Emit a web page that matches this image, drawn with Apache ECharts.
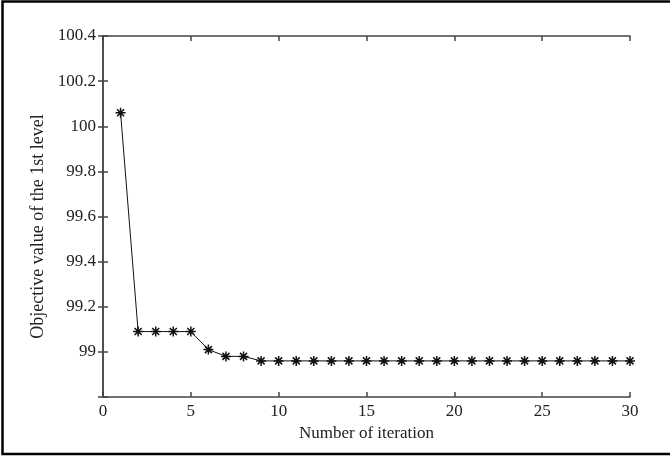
<!DOCTYPE html>
<html><head><meta charset="utf-8">
<script src="https://cdn.jsdelivr.net/npm/echarts@6/dist/echarts.min.js"></script>
<style>html,body{margin:0;padding:0;background:#fff}#c{width:670px;height:461px}</style>
</head><body><div id="c"></div>
<script>
const iterations = [1,2,3,4,5,6,7,8,9,10,11,12,13,14,15,16,17,18,19,20,21,22,23,24,25,26,27,28,29,30];
const objectiveValues = [100.06,99.09,99.09,99.09,99.09,99.01,98.98,98.98,98.96,98.96,98.96,98.96,98.96,98.96,98.96,98.96,98.96,98.96,98.96,98.96,98.96,98.96,98.96,98.96,98.96,98.96,98.96,98.96,98.96,98.96];
const xTicks = [0,5,10,15,20,25,30];
const yTicks = [98.8,99,99.2,99.4,99.6,99.8,100,100.2,100.4];

const font = 'Liberation Serif';
const chart = echarts.init(document.getElementById('c'));
const axisLine = {show:true, lineStyle:{color:'#444', width:1.5}};
const axisTick = {show:true, inside:true, length:5, lineStyle:{color:'#444', width:1.5}};
const star = 'path://M0,-1L0,1M-1,0L1,0M-0.7,-0.7L0.7,0.7M-0.7,0.7L0.7,-0.7';
chart.setOption({
  animation:false,
  backgroundColor:'#fff',
  graphic:[{type:'rect', shape:{x:2.5,y:1.5,width:680,height:452.5}, style:{fill:'none', stroke:'#000', lineWidth:2.5}, z:100}],
  grid:{left:103, right:40, top:36, bottom:64},
  xAxis:[{
    type:'value', min:xTicks[0], max:xTicks[xTicks.length-1], interval:5,
    name:'Number of iteration', nameLocation:'middle', nameGap:27,
    nameTextStyle:{fontFamily:font, fontSize:17, color:'#222'},
    axisLine, axisTick, splitLine:{show:false},
    axisLabel:{fontFamily:font, fontSize:17, color:'#222', margin:6}
  },{
    type:'value', position:'top', min:xTicks[0], max:xTicks[xTicks.length-1], interval:5,
    axisLine, axisTick, splitLine:{show:false}, axisLabel:{show:false}
  }],
  yAxis:[{
    type:'value', min:yTicks[0], max:yTicks[yTicks.length-1], interval:0.2,
    name:'Objective value of the 1st level', nameLocation:'middle', nameGap:55,
    nameTextStyle:{fontFamily:font, fontSize:18, color:'#222', padding:[0,20,0,0]},
    axisLine, axisTick, splitLine:{show:false},
    axisLabel:{fontFamily:font, fontSize:17, color:'#222', margin:7,
      formatter:v => Math.abs(v-98.8)<1e-6 ? '' : String(parseFloat(v.toFixed(1)))}
  },{
    type:'value', position:'right', min:yTicks[0], max:yTicks[yTicks.length-1], interval:0.2,
    axisLine, axisTick, splitLine:{show:false}, axisLabel:{show:false}
  }],
  series:[{
    type:'line', xAxisIndex:0, yAxisIndex:0,
    data: iterations.map((x,i)=>[x, objectiveValues[i]]),
    lineStyle:{color:'#111', width:1},
    symbol: star, symbolSize:10, showSymbol:true,
    itemStyle:{color:'#111', borderColor:'#111', borderWidth:1.5}
  }]
});
</script></body></html>
